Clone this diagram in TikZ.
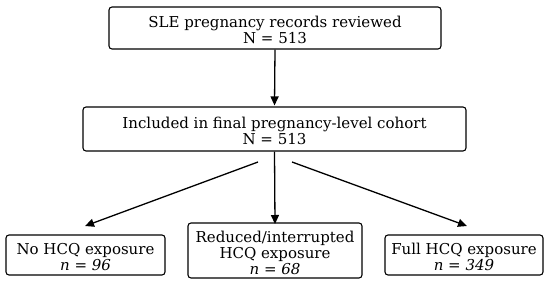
\documentclass[tikz,border=0pt]{standalone}
\usepackage{fontspec}
\setmainfont{DejaVu Serif}
\usetikzlibrary{arrows.meta}
\newcommand{\bxtext}[1]{\raisebox{-4.5pt}[\height][\depth]{\begin{tabular}{@{}c@{}}#1\end{tabular}}}
\begin{document}
\begin{tikzpicture}[x=1pt,y=1pt,
  box/.style={draw=black, line width=1.1pt, rounded corners=3pt, inner sep=0pt,
    font=\fontsize{15}{15.5}\selectfont},
  arr/.style={line width=1.3pt, draw=black, -{Triangle[length=9pt,width=8pt]}}]
\useasboundingbox (0,0) rectangle (550,285);
\node[box, minimum width=332pt, minimum height=42pt] (top) at (275,257) {\bxtext{SLE pregnancy records reviewed\\N = 513}};
\node[box, minimum width=383pt, minimum height=44pt] (coh) at (274.5,156) {\bxtext{Included in final pregnancy-level cohort\\N = 513}};
\node[box, minimum width=159pt, minimum height=40pt] (no) at (85.5,30) {\bxtext{No HCQ exposure\\{\itshape n} = {\itshape 96}}};
\node[box, minimum width=174pt, minimum height=55pt] (red) at (275,34.5) {\bxtext{Reduced/interrupted\\HCQ exposure\\{\itshape n} = {\itshape 68}}};
\node[box, minimum width=158pt, minimum height=40pt] (full) at (464,30) {\bxtext{Full HCQ exposure\\{\itshape n} = {\itshape 349}}};
\coordinate (ls) at (258,123);
\coordinate (lt) at (85,59);
\coordinate (rs) at (292,123);
\coordinate (rt) at (467,59);
\coordinate (mt) at (275,61);
\draw[arr] (top.south) -- ([yshift=1pt]coh.north);
\draw[arr] (ls) -- (lt);
\draw[arr] (coh.south) -- (mt);
\draw[arr] (rs) -- (rt);
\end{tikzpicture}
\end{document}
